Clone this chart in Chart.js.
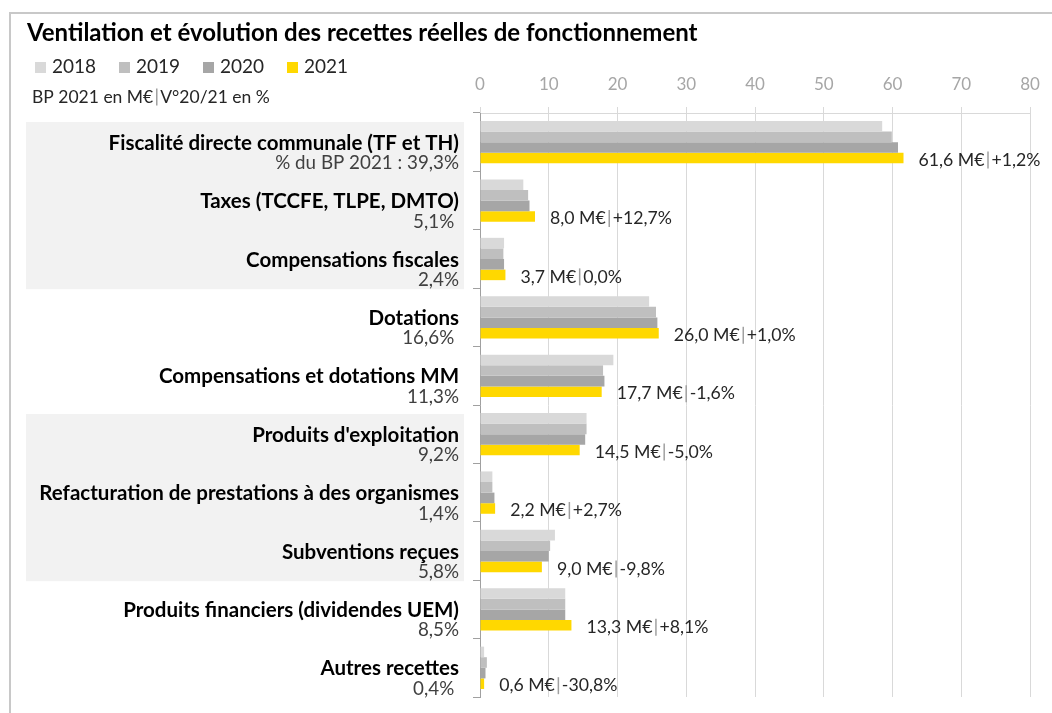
<!DOCTYPE html>
<html>
<head>
<meta charset="utf-8">
<script src="https://cdn.jsdelivr.net/npm/chart.js@4"></script>
<style>
  html, body { margin: 0; padding: 0; background: #fff; }
  #chart { display: block; }
</style>
</head>
<body>
<canvas id="chart" width="1052" height="713"></canvas>
<script>
// recettes réelles de fonctionnement, BP 2018-2021 (M€)
var categories = [
  'Fiscalité directe communale (TF et TH)',
  'Taxes (TCCFE, TLPE, DMTO)',
  'Compensations fiscales',
  'Dotations',
  'Compensations et dotations MM',
  "Produits d'exploitation",
  'Refacturation de prestations à des organismes',
  'Subventions reçues',
  'Produits financiers (dividendes UEM)',
  'Autres recettes'
];
var shares = ['% du BP 2021 : 39,3%', '5,1% ', '2,4%', '16,6% ', '11,3%', '9,2%', '1,4%', '5,8%', '8,5%', '0,4% '];
var years = ['2018', '2019', '2020', '2021'];
var v2018 = [58.5, 6.3, 3.5, 24.6, 19.4, 15.5, 1.8, 10.9, 12.4, 0.6];
var v2019 = [59.9, 7.0, 3.4, 25.6, 17.9, 15.5, 1.8, 10.2, 12.4, 1.0];
var v2020 = [60.8, 7.2, 3.5, 25.8, 18.1, 15.3, 2.1, 10.0, 12.4, 0.8];
var v2021 = [61.6, 8.0, 3.7, 26.0, 17.7, 14.5, 2.2, 9.0, 13.3, 0.6];
var variations = ['+1,2%', '+12,7%', '0,0%', '+1,0%', '-1,6%', '-5,0%', '+2,7%', '-9,8%', '+8,1%', '-30,8%'];
var xTicks = [0, 10, 20, 30, 40, 50, 60, 70, 80];

var colors = ['#d9d9d9', '#bfbfbf', '#a6a6a6', '#ffd800'];
var FONT = 'Lato, "Noto Sans", sans-serif';

function fmt(v) { return v.toFixed(1).replace('.', ',') + ' M€'; }

function sepText(ctx, x, y, left, right, h) {
  ctx.fillText(left, x, y);
  var w = ctx.measureText(left).width;
  ctx.save();
  ctx.strokeStyle = '#a0a0a0';
  ctx.lineWidth = 1.5;
  ctx.beginPath();
  ctx.moveTo(x + w + 3.5, y - h / 2);
  ctx.lineTo(x + w + 3.5, y + h / 2);
  ctx.stroke();
  ctx.restore();
  ctx.fillText(right, x + w + 7, y);
}

var decor = {
  id: 'decor',
  beforeDraw: function(chart) {
    var ctx = chart.ctx;
    var ys = chart.scales.y;
    var band = (ys.bottom - ys.top) / categories.length;
    ctx.save();
    ctx.fillStyle = '#fff';
    ctx.fillRect(0, 0, chart.width, chart.height);
    // frame
    ctx.strokeStyle = '#c8c8c8';
    ctx.lineWidth = 2;
    ctx.beginPath();
    ctx.moveTo(10, chart.height);
    ctx.lineTo(10, 13);
    ctx.lineTo(chart.width, 13);
    ctx.stroke();
    // shaded label groups
    ctx.fillStyle = '#f2f2f2';
    [[0, 2], [5, 7]].forEach(function(g) {
      var top = ys.getPixelForValue(g[0]) - band / 2 + 9;
      var bot = ys.getPixelForValue(g[1]) + band / 2 + 1;
      ctx.fillRect(26, top, 438, bot - top);
    });
    ctx.restore();
  },
  afterDraw: function(chart) {
    var ctx = chart.ctx;
    var ys = chart.scales.y;
    ctx.save();
    ctx.textBaseline = 'middle';

    // title
    ctx.fillStyle = '#000';
    ctx.font = 'bold 24px ' + FONT;
    ctx.textAlign = 'left';
    ctx.fillText('Ventilation et évolution des recettes réelles de fonctionnement', 27, 33);

    // legend
    ctx.font = '19px ' + FONT;
    years.forEach(function(y, i) {
      var x = 35 + i * 84;
      ctx.fillStyle = colors[i];
      ctx.fillRect(x, 62, 11, 11);
      ctx.fillStyle = '#262626';
      ctx.fillText(y, x + 17, 67);
    });

    // subtitle
    ctx.font = '17.5px ' + FONT;
    ctx.fillStyle = '#262626';
    sepText(ctx, 32, 97, 'BP 2021 en M€', 'V°20/21 en %', 17);

    // category labels
    ctx.textAlign = 'right';
    categories.forEach(function(c, i) {
      var cy = ys.getPixelForValue(i);
      ctx.fillStyle = '#000';
      ctx.font = 'bold 20.5px ' + FONT;
      ctx.fillText(c, 459, cy + 1);
      ctx.fillStyle = '#404040';
      ctx.font = '18.8px ' + FONT;
      ctx.fillText(shares[i], 459, cy + 21);
    });

    // data labels next to 2021 bars
    ctx.textAlign = 'left';
    ctx.font = '17.7px ' + FONT;
    ctx.fillStyle = '#262626';
    var meta = chart.getDatasetMeta(3);
    meta.data.forEach(function(bar, i) {
      sepText(ctx, bar.x + 15, bar.y + 2, fmt(v2021[i]), variations[i], 17);
    });
    ctx.restore();
  }
};

new Chart(document.getElementById('chart').getContext('2d'), {
  type: 'bar',
  data: {
    labels: categories,
    datasets: [v2018, v2019, v2020, v2021].map(function(d, i) {
      return {
        label: years[i],
        data: d,
        backgroundColor: colors[i],
        borderWidth: 0,
        categoryPercentage: 0.725,
        barPercentage: 1.0
      };
    })
  },
  options: {
    indexAxis: 'y',
    responsive: false,
    devicePixelRatio: 1,
    animation: false,
    layout: { padding: { top: 0, left: 0, right: 22, bottom: 16 } },
    plugins: {
      legend: { display: false },
      title: { display: false },
      tooltip: { enabled: false }
    },
    scales: {
      x: {
        position: 'top',
        min: 0,
        max: 80,
        afterBuildTicks: function(s) { s.ticks = xTicks.map(function(v) { return { value: v }; }); },
        afterFit: function(s) { s.height = 113; },
        ticks: { color: '#a6a6a6', font: { family: FONT, size: 17 }, padding: 12 },
        grid: { color: '#d9d9d9', tickLength: 6 },
        border: { color: '#d9d9d9' }
      },
      y: {
        afterFit: function(s) { s.width = 480; },
        ticks: { display: false },
        grid: { drawOnChartArea: false, offset: true, tickLength: 7, color: '#a0a0a0' },
        border: { color: '#a0a0a0' }
      }
    }
  },
  plugins: [decor]
});
</script>
</body>
</html>
